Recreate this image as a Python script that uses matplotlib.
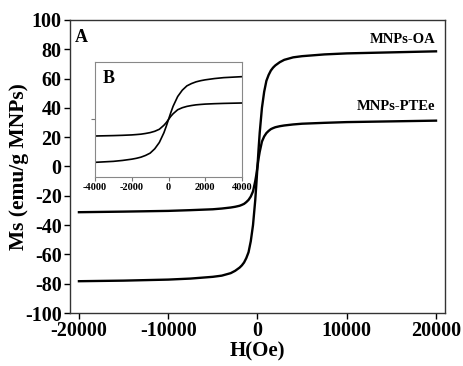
import matplotlib
matplotlib.use('Agg')
import matplotlib.pyplot as plt

plt.rcParams['font.family'] = ['Liberation Serif', 'DejaVu Serif']
plt.rcParams['font.weight'] = 'bold'
plt.rcParams['axes.unicode_minus'] = False

# field (Oe) and magnetisation (emu/g MNPs)
field = [-20000, -15000, -10000, -7500, -5000, -4000, -3000, -2500, -2000,
         -1750, -1500, -1250, -1000, -750, -500, -250, -125, 0, 125, 250,
         500, 750, 1000, 1250, 1500, 1750, 2000, 2500, 3000, 4000, 5000, 7500,
         10000, 15000, 20000]
ms_oa = [-78.3, -77.9, -77.2, -76.5, -75.3, -74.5, -72.8, -71.2, -69.0,
         -67.5, -65.5, -62.5, -58.5, -51.0, -40.0, -23.0, -12.0, 0.0, 12.0,
         23.0, 40.0, 51.0, 58.5, 62.5, 65.5, 67.5, 69.0, 71.2, 72.8, 74.5,
         75.3, 76.5, 77.2, 77.9, 78.6]
ms_ptee = [-31.2, -30.8, -30.3, -29.8, -29.2, -28.7, -28.0, -27.5, -26.8,
           -26.2, -25.5, -24.3, -22.8, -20.5, -17.0, -10.0, -5.5, 0.0, 5.5,
           10.0, 17.0, 20.5, 22.8, 24.3, 25.5, 26.2, 26.8, 27.5, 28.0, 28.7,
           29.2, 29.8, 30.3, 30.8, 31.3]

xticks = [-20000, -10000, 0, 10000, 20000]
yticks = list(range(-100, 101, 20))
inset_xticks = [-4000, -2000, 0, 2000, 4000]

fig = plt.figure(figsize=(4.63, 3.66), dpi=100)
ax = fig.add_axes([0.1512, 0.1448, 0.8098, 0.8006])
ax.plot(field, ms_oa, color='black', lw=1.7)
ax.plot(field, ms_ptee, color='black', lw=1.7)
ax.set_xlim(-21000, 21000)
ax.set_ylim(-100, 100)
ax.set_xticks(xticks)
ax.set_yticks(yticks)
ax.tick_params(direction='out', length=4, width=1, labelsize=14.5, pad=2)
for s in ax.spines.values():
    s.set_linewidth(1)
    s.set_color('#333333')
ax.set_xlabel('H(Oe)', fontsize=15, fontweight='bold', labelpad=0)
ax.set_ylabel('Ms (emu/g MNPs)', fontsize=15.5, fontweight='bold', labelpad=-3)
ax.text(0.012, 0.97, 'A', transform=ax.transAxes, fontsize=13,
        fontweight='bold', va='top', ha='left')
ax.text(0.975, 0.91, 'MNPs-OA', transform=ax.transAxes, fontsize=10.5,
        fontweight='bold', ha='right', va='bottom')
ax.text(0.975, 0.682, 'MNPs-PTEe', transform=ax.transAxes, fontsize=10.5,
        fontweight='bold', ha='right', va='bottom')

ins = fig.add_axes([0.2052, 0.5164, 0.3175, 0.3142])
ins.plot(field, ms_oa, color='black', lw=1.2)
ins.plot(field, ms_ptee, color='black', lw=1.2)
ins.set_xlim(-4000, 4000)
ins.set_ylim(-100, 100)
ins.set_xticks(inset_xticks)
ins.set_yticks([0])
ins.set_yticklabels([])
ins.tick_params(direction='out', length=3, width=0.8, labelsize=7.5, pad=1,
                color='#777777')
for s in ins.spines.values():
    s.set_linewidth(0.8)
    s.set_color('#888888')
ins.text(0.05, 0.93, 'B', transform=ins.transAxes, fontsize=13,
         fontweight='bold', va='top', ha='left')

fig.savefig('out.png', dpi=100)
